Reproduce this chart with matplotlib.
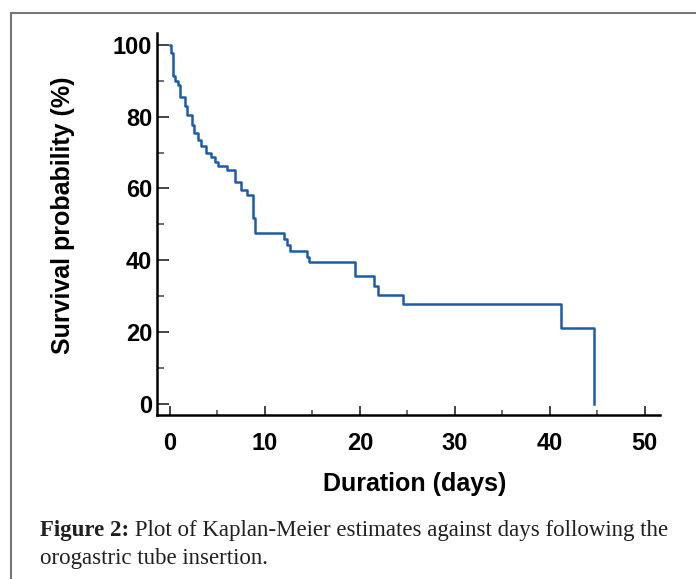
import matplotlib
matplotlib.use("Agg")
import matplotlib.pyplot as plt
from matplotlib.lines import Line2D
from matplotlib.ticker import MultipleLocator

# Kaplan-Meier step values
dias = [0, 0.15, 0.3, 0.35, 0.5, 0.8, 1.1, 1.6, 1.8, 2.3, 2.5, 3.0, 3.3, 3.75,
        4.3, 4.7, 5.1, 6.0, 6.85, 7.5, 8.15, 8.7, 8.95, 12.0, 12.35, 12.6,
        14.4, 14.6, 19.5, 21.5, 21.9, 24.5, 41.2, 44.6]
supervivencia = [100, 97.7, 95.3, 91.2, 89.9, 88.9, 85.6, 83.0, 80.5, 77.7, 75.4,
                 73.5, 71.7, 69.8, 68.7, 67.5, 66.3, 65.2, 61.9, 59.6, 58.2, 51.7,
                 47.5, 45.9, 44.3, 42.7, 41.0, 39.4, 35.5, 32.9, 30.4, 27.9, 21.0, 0]

x_ticks = [0, 10, 20, 30, 40, 50]
y_ticks = [0, 20, 40, 60, 80, 100]
caption_bold = "Figure 2:"
caption_rest = " Plot of Kaplan-Meier estimates against days following the"
caption_line2 = "orogastric tube insertion."

W, H = 696, 579
fig = plt.figure(figsize=(W / 100, H / 100), dpi=100)
ax = fig.add_axes([157 / W, 1 - 415 / H, (660 - 157) / W, (415 - 33) / H])

ax.step(dias, supervivencia, where='post', color='#1c5ca8', linewidth=1.8)

ax.set_xlim(-1.37, 51.6)
ax.set_ylim(-3.1, 103.3)
for s in ['top', 'right']:
    ax.spines[s].set_visible(False)
for s in ['left', 'bottom']:
    ax.spines[s].set_linewidth(1.8)

ax.set_xticks(x_ticks)
ax.set_yticks(y_ticks)
ax.xaxis.set_minor_locator(MultipleLocator(5))
ax.yaxis.set_minor_locator(MultipleLocator(10))
ax.tick_params(axis='x', which='major', direction='in', length=6.5, width=1.4,
               color='#444444', pad=12)
ax.tick_params(axis='x', which='minor', direction='in', length=3.3, width=1.2,
               color='#555555')
ax.tick_params(axis='y', which='major', direction='in', length=8.5, width=1.4,
               color='#444444', pad=3.5)
ax.tick_params(axis='y', which='minor', direction='in', length=4.8, width=1.2,
               color='#555555')

fuente = 'Liberation Sans'
for lab in ax.get_xticklabels() + ax.get_yticklabels():
    lab.set_fontfamily(fuente)
    lab.set_fontweight('bold')
    lab.set_fontsize(17)

ax.set_xlabel('Duration (days)', fontfamily=fuente, fontweight='bold', fontsize=18)
ax.set_ylabel('Survival probability (%)', fontfamily=fuente, fontweight='bold',
              fontsize=18)
ax.xaxis.set_label_coords(0.513, -0.149)
ax.yaxis.set_label_coords(-0.163, 0.524)

# marco de la figura
fig.add_artist(Line2D([11 / W, 11 / W], [0, 1 - 13 / H], transform=fig.transFigure,
                      color='#777777', linewidth=1.5))
fig.add_artist(Line2D([11 / W, 1], [1 - 13 / H, 1 - 13 / H], transform=fig.transFigure,
                      color='#777777', linewidth=1.5))

# pie de figura
color_pie = '#231f20'
t1 = fig.text(40 / W, 1 - 536 / H, caption_bold, fontfamily='Liberation Serif',
              fontweight='bold', fontsize=16.5, color=color_pie, va='baseline')
renderer = fig.canvas.get_renderer()
bb = t1.get_window_extent(renderer=renderer)
fig.text(bb.x1 / W, 1 - 536 / H, caption_rest, fontfamily='Liberation Serif',
         fontsize=16.5, color=color_pie, va='baseline')
fig.text(40 / W, 1 - 564 / H, caption_line2, fontfamily='Liberation Serif',
         fontsize=16.5, color=color_pie, va='baseline')

fig.savefig('out.png', dpi=100)
